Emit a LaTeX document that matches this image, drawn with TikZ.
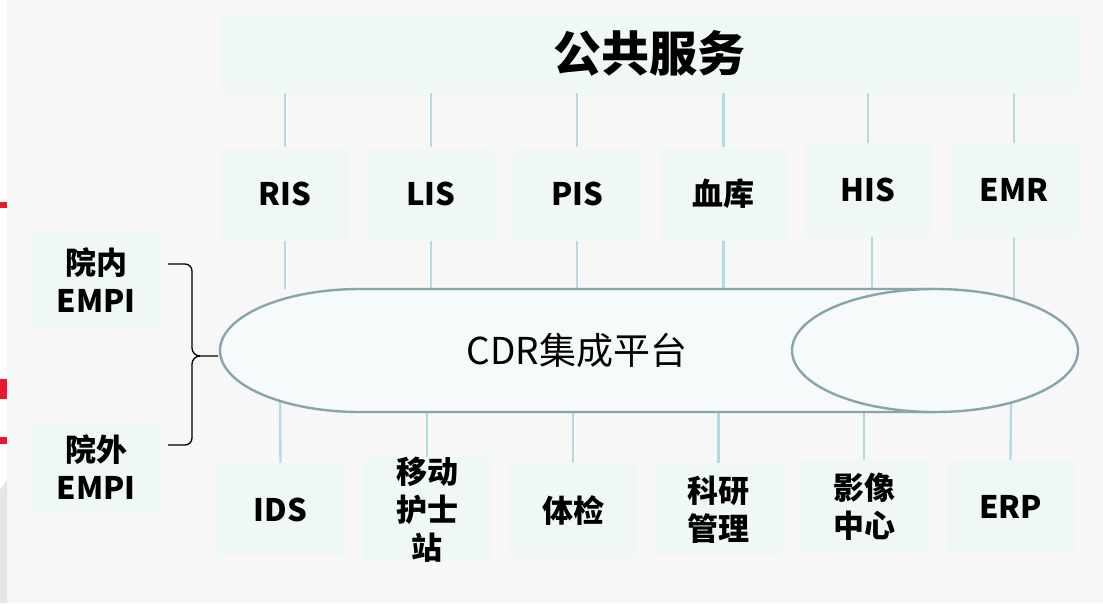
\documentclass[tikz,border=0pt]{standalone}
\usepackage{fontspec}
\newfontfamily\cjk{Noto Sans CJK SC}
\usetikzlibrary{shapes.geometric}
\definecolor{bgc}{HTML}{F7F7F7}
\definecolor{boxfill}{HTML}{EFF7F7}
\definecolor{connc}{HTML}{B4DCE0}
\definecolor{cylline}{HTML}{88A6AA}
\definecolor{cylfill}{HTML}{F6FAFB}
\definecolor{redmark}{HTML}{E8192C}
\begin{document}
\begin{tikzpicture}[x=1pt,y=-1pt,
  box/.style={fill=boxfill, draw=none, inner sep=0pt, minimum width=128pt, minimum height=93pt,
    font=\cjk\bfseries\fontsize{31}{38}\selectfont, align=center, text=black},
  connector/.style={draw=connc, line width=2.4pt},
  cyl/.style={draw=cylline, fill=cylfill, line width=2.4pt},
  bracestyle/.style={draw=black, line width=1.3pt, line join=round}]
\useasboundingbox (0,0) rectangle (1103,603);
% background
\fill[bgc] (7,0) rectangle (1103,603);
\fill[white] (0,0) rectangle (7,603);
\fill[redmark] (0,202) rectangle (7,208);
\fill[redmark] (0,379) rectangle (7,399);
\fill[redmark] (0,437) rectangle (7,444);
\fill[black!10] (0,490) -- (7,480) -- (7,603) -- (0,603) -- cycle;

% top box
\node[box, minimum width=858pt, minimum height=80pt, font=\cjk\bfseries\fontsize{48}{52}\selectfont] (top) at (649,53) {公共服务};

% top row
\node[box] (ris) at (285,194) {RIS};
\node[box] (lis) at (431,194) {LIS};
\node[box] (pis) at (577,194) {PIS};
\node[box] (xk)  at (723.5,194) {血库};
\node[box, minimum height=94pt] (his) at (868,190) {HIS};
\node[box, minimum height=94pt] (emr) at (1014,190) {EMR};

% bottom row
\node[box] (ids) at (280.5,509.5) {IDS};
\node[box] (yd)  at (427,509.5) {移动\\护士\\站};
\node[box] (tj)  at (573,510) {体检};
\node[box] (ky)  at (718.5,509.5) {科研\\管理};
\node[box] (yx)  at (864,506.5) {影像\\中心};
\node[box] (erp) at (1010.5,506.5) {ERP};

% left boxes
\node[box, minimum height=94pt] (yn) at (96,280) {院内\\EMPI};
\node[box] (yw) at (96,467.5) {院外\\EMPI};

% coordinates on the cylinder outline
\coordinate (cyltop) at (360,289);
\coordinate (cylbot) at (360,412);
\coordinate (emrend) at (1014,299);
\coordinate (idsend) at (280,401);
\coordinate (erpend) at (1011,403);
\coordinate (bracetip) at (218,356);

% connectors top box -> top row
\foreach \n in {ris,lis,pis,xk,his,emr}
  \draw[connector] (\n.north) -- (\n.north |- top.south);
% top row -> cylinder
\foreach \n in {ris,lis,pis,xk}
  \draw[connector] (\n.south) -- (\n.south |- cyltop);
\draw[connector] ([xshift=4pt]his.south) -- ([xshift=4pt]his.south |- cyltop);
\draw[connector] (emr.south) -- (emrend);
% cylinder -> bottom row
\draw[connector] (ids.north) -- (idsend);
\foreach \n in {yd,tj,ky,yx}
  \draw[connector] (\n.north) -- (\n.north |- cylbot);
\draw[connector] (erp.north) -- (erpend);

% cylinder
\filldraw[cyl] (935,289) -- (360,289) arc[start angle=90, end angle=270, x radius=140pt, y radius=61.5pt] -- (935,412) -- cycle;
\node[cyl, ellipse, minimum width=286pt, minimum height=123pt, inner sep=0pt] (rend) at (935,350.5) {};
\node[font=\cjk\fontsize{37}{44}\selectfont] (cdr) at (577,350) {CDR集成平台};

% brace
\draw[bracestyle] (168,264) -- (185,264) to[out=0,in=90] (192,271) -- (192,348)
  to[out=270,in=180] (200,356) -- (bracetip);
\draw[bracestyle] (200,356) to[out=180,in=90] (192,364) -- (192,438)
  to[out=270,in=0] (185,445) -- (168,445);
\end{tikzpicture}
\end{document}
